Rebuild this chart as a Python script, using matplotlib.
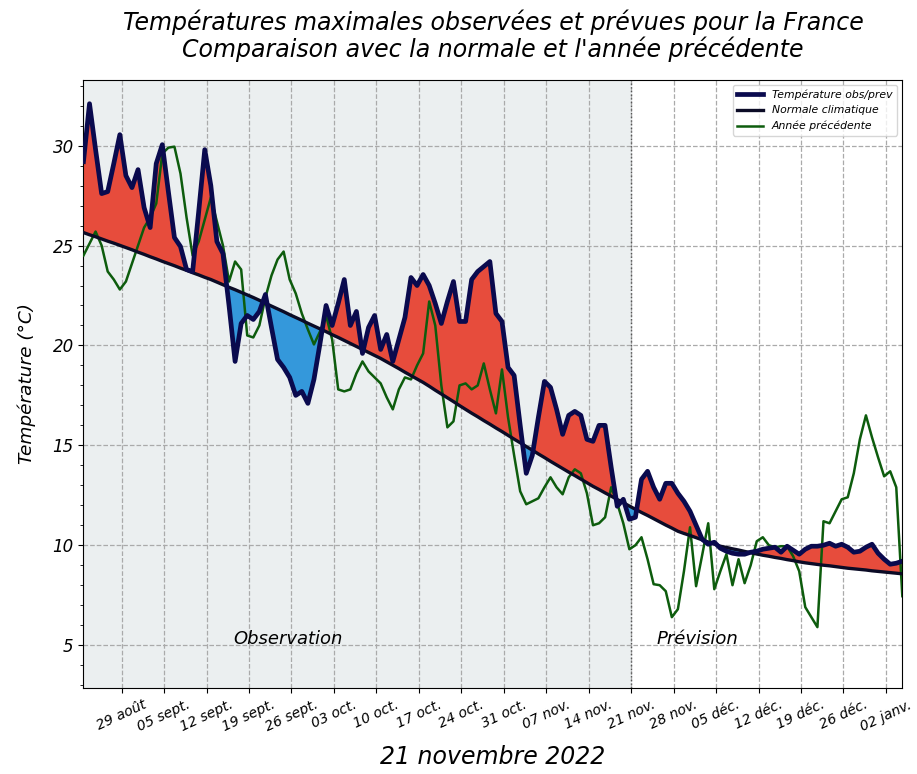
import matplotlib
matplotlib.use('Agg')
import matplotlib.pyplot as plt
import matplotlib.dates as mdates
from matplotlib.ticker import MultipleLocator, FuncFormatter
import pandas as pd
import numpy as np

# une valeur par jour
debut = '2022-08-22 17:00'
debut_prevision = '2022-11-21'

temp_obs_prev = [29.2, 32.1, 29.8, 27.6, 27.7, 29.1, 30.55, 28.5, 27.9, 28.8,
                 26.9, 25.9, 29.1, 30.05, 27.7, 25.4, 24.95, 23.8, 23.7, 26.7,
                 29.8, 28.0, 25.2, 24.6, 22.0, 19.2, 21.1, 21.5, 21.3, 21.7,
                 22.55, 20.9, 19.3, 18.9, 18.4, 17.5, 17.7, 17.1, 18.3, 20.1,
                 22.0, 21.0, 22.1, 23.3, 21.0, 21.7, 19.6, 20.9, 21.5, 19.8,
                 20.55, 19.2, 20.3, 21.4, 23.4, 23.0, 23.55, 23.0, 22.1, 21.1,
                 22.2, 23.2, 21.2, 21.2, 23.3, 23.7, 23.95, 24.2, 21.6, 21.2,
                 18.9, 18.5, 16.0, 13.6, 14.5, 16.4, 18.2, 17.9, 16.8, 15.55,
                 16.5, 16.7, 16.5, 15.3, 15.2, 16.0, 16.0, 13.9, 11.95, 12.3,
                 11.3, 11.4, 13.3, 13.7, 12.9, 12.3, 13.1, 13.1, 12.6, 12.2,
                 11.7, 11.0, 10.3, 10.05, 10.15, 9.85, 9.7, 9.6, 9.55, 9.55,
                 9.65, 9.7, 9.8, 9.85, 9.9, 9.65, 9.95, 9.75, 9.55, 9.8,
                 9.95, 9.95, 10.0, 10.1, 9.95, 10.05, 9.9, 9.65, 9.7, 9.9,
                 10.05, 9.6, 9.3, 9.05, 9.1, 9.2]

normale = [25.65, 25.54, 25.44, 25.33, 25.22, 25.12, 25.01, 24.90,
           24.79, 24.67, 24.56, 24.44, 24.33, 24.21, 24.10,
           23.99, 23.87, 23.76, 23.64, 23.53, 23.41, 23.30,
           23.17, 23.04, 22.91, 22.79, 22.66, 22.53, 22.40,
           22.26, 22.11, 21.97, 21.83, 21.69, 21.54, 21.40,
           21.26, 21.11, 20.97, 20.83, 20.69, 20.54, 20.40,
           20.25, 20.10, 19.95, 19.80, 19.65, 19.50, 19.35,
           19.18, 19.01, 18.84, 18.66, 18.49, 18.32, 18.15,
           17.96, 17.76, 17.57, 17.38, 17.19, 16.99, 16.80,
           16.61, 16.43, 16.24, 16.06, 15.87, 15.69, 15.50,
           15.31, 15.13, 14.94, 14.76, 14.57, 14.39, 14.20,
           14.02, 13.84, 13.66, 13.49, 13.31, 13.13, 12.95,
           12.79, 12.62, 12.46, 12.29, 12.13, 11.96, 11.80,
           11.64, 11.49, 11.33, 11.17, 11.01, 10.86, 10.70,
           10.59, 10.49, 10.38, 10.27, 10.16, 10.06, 9.95,
           9.89, 9.82, 9.76, 9.69, 9.63, 9.56, 9.50,
           9.45, 9.39, 9.34, 9.28, 9.23, 9.17, 9.12,
           9.08, 9.04, 9.00, 8.97, 8.93, 8.89, 8.85,
           8.82, 8.79, 8.76, 8.72, 8.69, 8.66, 8.63,
           8.60, 8.57]

annee_prec = [24.5, 25.1, 25.7, 25.0, 23.7, 23.3, 22.8, 23.2, 24.1, 25.0,
              25.9, 26.4, 27.1, 29.6, 29.9, 29.95, 28.6, 26.4, 24.5, 25.2,
              26.3, 27.4, 26.2, 25.0, 23.2, 24.2, 23.8, 20.5, 20.4, 21.0,
              22.4, 23.5, 24.3, 24.7, 23.3, 22.6, 21.6, 20.8, 20.05, 20.7,
              21.5, 20.3, 17.8, 17.7, 17.8, 18.6, 19.2, 18.7, 18.4, 18.1,
              17.4, 16.8, 17.8, 18.4, 18.3, 19.0, 19.6, 22.2, 21.0, 18.0,
              15.9, 16.2, 18.0, 18.1, 17.8, 18.0, 19.1, 17.8, 16.6, 18.8,
              16.4, 14.5, 12.7, 12.05, 12.2, 12.35, 12.9, 13.4, 12.9, 12.55,
              13.4, 13.8, 13.6, 12.6, 11.0, 11.1, 11.4, 12.9, 12.1, 11.1,
              9.8, 10.0, 10.4, 9.3, 8.05, 8.0, 7.7, 6.4, 6.8, 8.7,
              10.9, 7.95, 9.5, 11.1, 7.8, 8.7, 9.55, 8.0, 9.3, 8.1,
              9.0, 10.2, 10.4, 10.0, 9.9, 9.95, 9.95, 9.45, 8.7, 6.9,
              6.4, 5.9, 11.2, 11.1, 11.7, 12.3, 12.4, 13.6, 15.3, 16.5,
              15.4, 14.4, 13.45, 13.7, 12.9, 7.45]

mois = {1: 'janv.', 8: 'août', 9: 'sept.', 10: 'oct.', 11: 'nov.', 12: 'déc.'}

dates = pd.date_range(debut, periods=len(temp_obs_prev), freq='D')
obs = np.array(temp_obs_prev)
norm = np.array(normale)

fig = plt.figure(figsize=(9.17, 7.74), dpi=100)
ax = fig.add_axes([0.091, 0.111, 0.893, 0.786])

# zone observation
ax.axvspan(dates[0], pd.Timestamp(debut_prevision), color='#ebeff0', zorder=0)
ax.axvline(pd.Timestamp(debut_prevision), color='#555555', ls=':', lw=1, zorder=1)
ax.set_axisbelow(True)
ax.grid(True, ls='--', color='#aaaaaa', lw=0.9)

ax.fill_between(dates, obs, norm, where=obs >= norm, interpolate=True,
                color='#e74c3c', lw=0, zorder=2)
ax.fill_between(dates, obs, norm, where=obs < norm, interpolate=True,
                color='#3498db', lw=0, zorder=2)

l3, = ax.plot(dates, annee_prec, color='#0d5c0d', lw=1.8, zorder=3, label='Année précédente')
l2, = ax.plot(dates, normale, color='#0b0b26', lw=2.4, zorder=4, label='Normale climatique')
l1, = ax.plot(dates, temp_obs_prev, color='#0a0a4e', lw=3.4, zorder=5, label='Température obs/prev')

ax.text(pd.Timestamp('2022-09-25 12:00'), 5.3, 'Observation', style='italic', fontsize=13,
        ha='center', va='center')
ax.text(pd.Timestamp('2022-12-02'), 5.3, 'Prévision', style='italic', fontsize=13,
        ha='center', va='center')

ax.set_xlim(dates[0], dates[-1])
ax.set_ylim(2.85, 33.3)
ax.yaxis.set_major_locator(MultipleLocator(5))
ax.yaxis.set_minor_locator(MultipleLocator(1))
ax.xaxis.set_major_locator(mdates.WeekdayLocator(byweekday=mdates.MO))
ax.xaxis.set_major_formatter(FuncFormatter(
    lambda v, p: '%02d %s' % (mdates.num2date(v).day, mois[mdates.num2date(v).month])))
for lab in ax.get_yticklabels():
    lab.set_fontstyle('italic')
    lab.set_fontsize(12)
for lab in ax.get_xticklabels():
    lab.set_rotation(25)
    lab.set_fontstyle('italic')
    lab.set_fontsize(10)
    lab.set_ha('center')

leg = ax.legend(handles=[l1, l2, l3], loc='upper right', handlelength=2.4,
                prop={'style': 'italic', 'size': 7.8})

ax.set_title("Températures maximales observées et prévues pour la France\n"
             "Comparaison avec la normale et l'année précédente",
             fontsize=17, style='italic', pad=16, linespacing=1.1)
ax.set_xlabel('21 novembre 2022', fontsize=17, style='italic', labelpad=8)
ax.set_ylabel('Température (°C)', fontsize=13.3, style='italic', labelpad=12)

fig.savefig('out.png', dpi=100)
